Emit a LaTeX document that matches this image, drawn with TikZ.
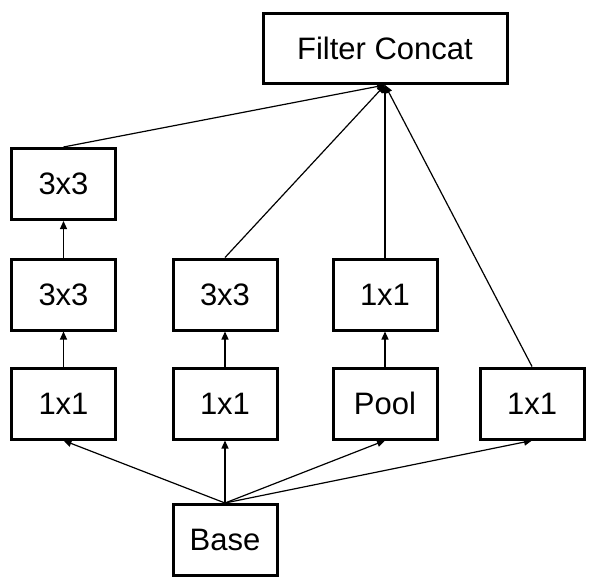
\documentclass[tikz,border=0pt]{standalone}
\usepackage{fontspec}
\setmainfont{Liberation Sans}
\usetikzlibrary{arrows.meta}

\tikzset{
  op/.style={draw, line width=3pt, minimum width=104pt, minimum height=71pt,
    inner sep=0pt, font=\fontsize{31}{36}\selectfont},
  flow/.style={line width=1.2pt, -{Triangle[length=8pt,width=7pt]}}
}

\begin{document}
\begin{tikzpicture}[x=1pt,y=-1pt]
  \useasboundingbox (0,0) rectangle (589,581);
  \node[op, minimum width=244pt, minimum height=70pt] (concat) at (385,48.5) {Filter Concat};
  \node[op] (a3) at (63.5,184) {3x3};
  \node[op] (a2) at (63.5,294.5) {3x3};
  \node[op] (a1) at (63.5,403.5) {1x1};
  \node[op] (b2) at (225,294.5) {3x3};
  \node[op] (b1) at (225,403.5) {1x1};
  \node[op] (c2) at (385,294.5) {1x1};
  \node[op] (c1) at (385,403.5) {Pool};
  \node[op] (d1) at (532,403.5) {1x1};
  \node[op] (base) at (225,540) {Base};
  % base to the first layer
  \foreach \n in {a1,b1,c1,d1}
    \draw[flow] (base.north) -- (\n.south);
  % inside the towers
  \draw[flow] (a1.north) -- (a2.south);
  \draw[flow] (a2.north) -- (a3.south);
  \draw[flow] (b1.north) -- (b2.south);
  \draw[flow] (c1.north) -- (c2.south);
  % into the concat
  \foreach \n in {a3,b2,c2,d1}
    \draw[flow] (\n.north) -- (concat.south);
\end{tikzpicture}
\end{document}
